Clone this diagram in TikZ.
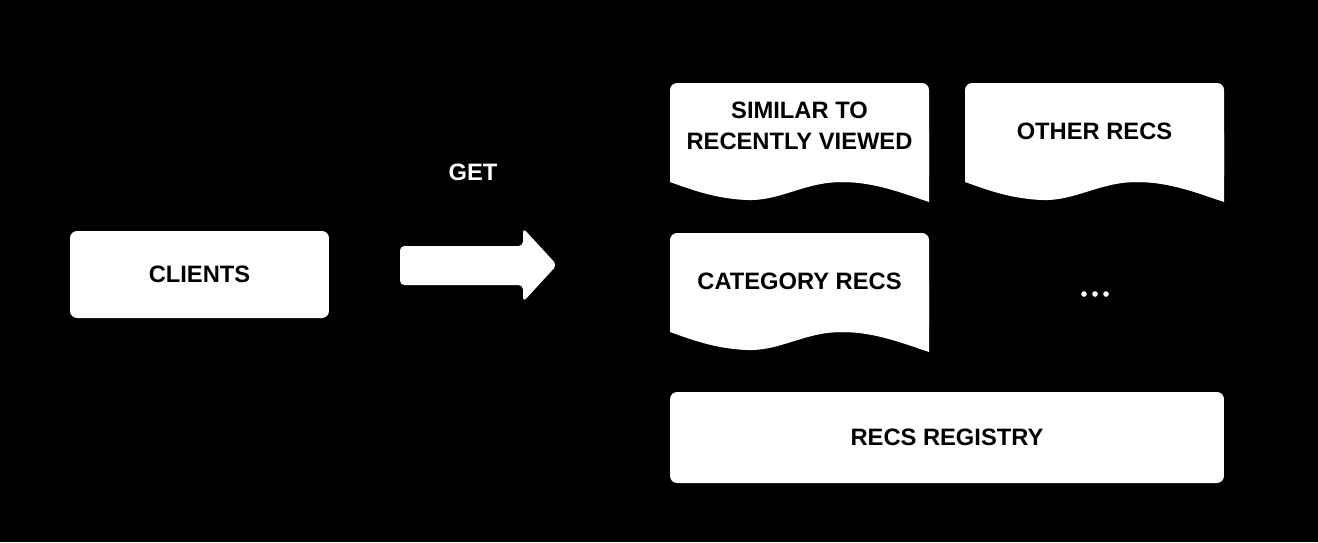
\documentclass[tikz,border=0pt]{standalone}
\usepackage{fontspec}
\setmainfont{Liberation Sans}
\usetikzlibrary{calc}
\tikzset{
	box text/.style={font=\bfseries\fontsize{13.5}{17.6}\selectfont, align=center, text=black},
	plain box/.style={fill=white, rounded corners=4pt, inner sep=0pt},
}
\newcommand{\recsdoc}[5]{
	\fill[white, rounded corners=4pt] (#2,#3) rectangle (#2+259,#3+99);
	\fill[white] (#2,#3+50) -- (#2+259,#3+50) -- (#2+259,#3+119)
		.. controls (#2+235,#3+111) and (#2+205,#3+99) .. (#2+172,#3+99)
		.. controls (#2+135,#3+99) and (#2+110,#3+118) .. (#2+78,#3+117)
		.. controls (#2+45,#3+116) and (#2+20,#3+106) .. (#2,#3+99) -- cycle;
	\node[box text] (#1) at (#2+129.5,#3+#4) {#5};
}

\begin{document}
\begin{tikzpicture}[x=0.02cm, y=-0.02cm]
				\fill[black] (0,0) rectangle (1318,542);
				\useasboundingbox (0,0) rectangle (1318,542);
				\node[plain box, box text, minimum width=5.18cm, minimum height=1.74cm] (clients) at (199.5,274.5) {CLIENTS};
				\node[box text, text=white] (get) at (473,172) {GET};
				\fill[white, rounded corners=2.5pt] (400,246) -- (523,246) -- (523,228) -- (557,265) -- (523,302) -- (523,285) -- (400,285) -- cycle;
				\recsdoc{similar}{670}{83}{42.5}{SIMILAR TO\\RECENTLY VIEWED}
				\recsdoc{other}{965}{83}{48}{OTHER RECS}
				\recsdoc{category}{670}{233}{48}{CATEGORY RECS}
				\foreach \dx in {-11,0,11}
					\fill[white] (1095+\dx,294) circle (1.6pt);
				\node[plain box, box text, minimum width=11.08cm, minimum height=1.82cm] (registry) at (947,437.5) {RECS REGISTRY};
			\end{tikzpicture}
\end{document}
